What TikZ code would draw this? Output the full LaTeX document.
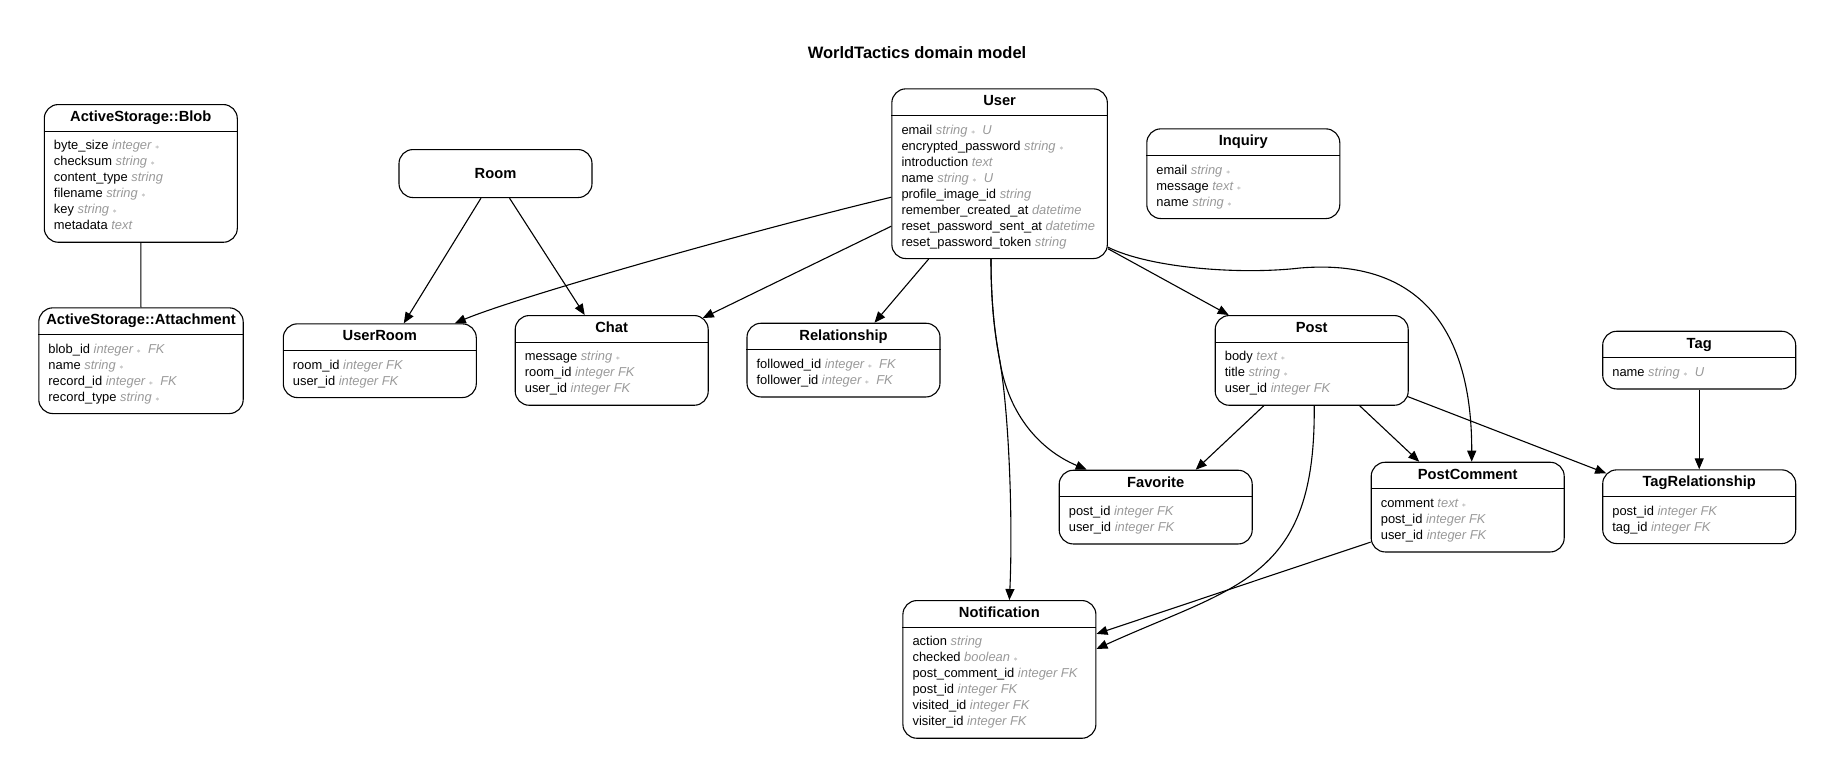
\documentclass[tikz,border=0pt]{standalone}
\usepackage{fontspec}
\setmainfont{Liberation Sans}
\usetikzlibrary{arrows.meta}
\definecolor{typegray}{HTML}{999999}
\newcommand\ty[1]{\textcolor{typegray}{\itshape #1}}
\newcommand\nn{\textcolor{typegray}{\footnotesize$\ast$}}
\begin{document}
\begin{tikzpicture}[x=1pt,y=-1pt,
   box/.style={draw, line width=1.1pt, rounded corners=14pt, minimum width=193pt, inner sep=0pt, anchor=north},
   head/.style={font=\fontsize{14.7}{17}\selectfont\bfseries, anchor=base, inner sep=0pt},
   attr/.style={font=\fontsize{12.9}{16}\selectfont, anchor=base west, inner sep=0pt},
   sepline/.style={line width=1pt},
   rel/.style={line width=1.1pt, -{Triangle[length=11pt,width=9pt]}}]
   \useasboundingbox (0,0) rectangle (1834,777);
   \node[font=\fontsize{16.5}{20}\selectfont\bfseries] (title) at (917,52.6) {WorldTactics domain model};

   \node[box, minimum height=137.7pt] (blob) at (140.8,104) {};
   \node[head] (blob-h) at ([yshift=-17.5]blob.north) {ActiveStorage::Blob};
   \draw[sepline] ([yshift=-27]blob.north west) -- ([yshift=-27]blob.north east);
   \node[attr] (blob-a) at ([xshift=10,yshift=-45.8]blob.north west) {\begin{tabular}[t]{@{}l@{}}
      byte\_size \ty{integer \nn}\\ checksum \ty{string \nn}\\ content\_type \ty{string}\\
      filename \ty{string \nn}\\ key \ty{string \nn}\\ metadata \ty{text}\end{tabular}};

   \node[box, minimum width=204.4pt, minimum height=105.7pt] (attach) at (141,307.3) {};
   \node[head] (attach-h) at ([yshift=-17.5]attach.north) {ActiveStorage::Attachment};
   \draw[sepline] ([yshift=-27]attach.north west) -- ([yshift=-27]attach.north east);
   \node[attr] (attach-a) at ([xshift=10,yshift=-45.8]attach.north west) {\begin{tabular}[t]{@{}l@{}}
      blob\_id \ty{integer \nn~ FK}\\ name \ty{string \nn}\\ record\_id \ty{integer \nn~ FK}\\
      record\_type \ty{string \nn}\end{tabular}};

   \node[box, minimum height=48pt] (room) at (495.5,149) {};
   \node[head] (room-h) at ([yshift=-29.3]room.north) {Room};

   \node[box, minimum height=73.7pt] (userroom) at (379.8,323.3) {};
   \node[head] (userroom-h) at ([yshift=-17.5]userroom.north) {UserRoom};
   \draw[sepline] ([yshift=-27]userroom.north west) -- ([yshift=-27]userroom.north east);
   \node[attr] (userroom-a) at ([xshift=10,yshift=-45.8]userroom.north west) {\begin{tabular}[t]{@{}l@{}}
      room\_id \ty{integer FK}\\ user\_id \ty{integer FK}\end{tabular}};

   \node[box, minimum height=89.7pt] (chat) at (611.7,315) {};
   \node[head] (chat-h) at ([yshift=-17.5]chat.north) {Chat};
   \draw[sepline] ([yshift=-27]chat.north west) -- ([yshift=-27]chat.north east);
   \node[attr] (chat-a) at ([xshift=10,yshift=-45.8]chat.north west) {\begin{tabular}[t]{@{}l@{}}
      message \ty{string \nn}\\ room\_id \ty{integer FK}\\ user\_id \ty{integer FK}\end{tabular}};

   \node[box, minimum height=73.7pt] (relationship) at (843.5,322.7) {};
   \node[head] (relationship-h) at ([yshift=-17.5]relationship.north) {Relationship};
   \draw[sepline] ([yshift=-27]relationship.north west) -- ([yshift=-27]relationship.north east);
   \node[attr] (relationship-a) at ([xshift=10,yshift=-45.8]relationship.north west) {\begin{tabular}[t]{@{}l@{}}
      followed\_id \ty{integer \nn~ FK}\\ follower\_id \ty{integer \nn~ FK}\end{tabular}};

   \node[box, minimum width=215.5pt, minimum height=169.7pt] (user) at (999.6,88.3) {};
   \node[head] (user-h) at ([yshift=-17.5]user.north) {User};
   \draw[sepline] ([yshift=-27]user.north west) -- ([yshift=-27]user.north east);
   \node[attr] (user-a) at ([xshift=10,yshift=-45.8]user.north west) {\begin{tabular}[t]{@{}l@{}}
      email \ty{string \nn~ U}\\ encrypted\_password \ty{string \nn}\\ introduction \ty{text}\\
      name \ty{string \nn~ U}\\ profile\_image\_id \ty{string}\\ remember\_created\_at \ty{datetime}\\
      reset\_password\_sent\_at \ty{datetime}\\ reset\_password\_token \ty{string}\end{tabular}};

   \node[box, minimum height=89.7pt] (inquiry) at (1243.3,128.3) {};
   \node[head] (inquiry-h) at ([yshift=-17.5]inquiry.north) {Inquiry};
   \draw[sepline] ([yshift=-27]inquiry.north west) -- ([yshift=-27]inquiry.north east);
   \node[attr] (inquiry-a) at ([xshift=10,yshift=-45.8]inquiry.north west) {\begin{tabular}[t]{@{}l@{}}
      email \ty{string \nn}\\ message \ty{text \nn}\\ name \ty{string \nn}\end{tabular}};

   \node[box, minimum height=89.7pt] (post) at (1311.7,315) {};
   \node[head] (post-h) at ([yshift=-17.5]post.north) {Post};
   \draw[sepline] ([yshift=-27]post.north west) -- ([yshift=-27]post.north east);
   \node[attr] (post-a) at ([xshift=10,yshift=-45.8]post.north west) {\begin{tabular}[t]{@{}l@{}}
      body \ty{text \nn}\\ title \ty{string \nn}\\ user\_id \ty{integer FK}\end{tabular}};

   \node[box, minimum height=57.7pt] (tag) at (1699.2,330.7) {};
   \node[head] (tag-h) at ([yshift=-17.5]tag.north) {Tag};
   \draw[sepline] ([yshift=-27]tag.north west) -- ([yshift=-27]tag.north east);
   \node[attr] (tag-a) at ([xshift=10,yshift=-45.8]tag.north west) {\begin{tabular}[t]{@{}l@{}}
      name \ty{string \nn~ U}\end{tabular}};

   \node[box, minimum height=73.7pt] (favorite) at (1155.7,469.7) {};
   \node[head] (favorite-h) at ([yshift=-17.5]favorite.north) {Favorite};
   \draw[sepline] ([yshift=-27]favorite.north west) -- ([yshift=-27]favorite.north east);
   \node[attr] (favorite-a) at ([xshift=10,yshift=-45.8]favorite.north west) {\begin{tabular}[t]{@{}l@{}}
      post\_id \ty{integer FK}\\ user\_id \ty{integer FK}\end{tabular}};

   \node[box, minimum height=89.7pt] (postcomment) at (1467.7,461.7) {};
   \node[head] (postcomment-h) at ([yshift=-17.5]postcomment.north) {PostComment};
   \draw[sepline] ([yshift=-27]postcomment.north west) -- ([yshift=-27]postcomment.north east);
   \node[attr] (postcomment-a) at ([xshift=10,yshift=-45.8]postcomment.north west) {\begin{tabular}[t]{@{}l@{}}
      comment \ty{text \nn}\\ post\_id \ty{integer FK}\\ user\_id \ty{integer FK}\end{tabular}};

   \node[box, minimum height=73.7pt] (tagrel) at (1699.2,469.3) {};
   \node[head] (tagrel-h) at ([yshift=-17.5]tagrel.north) {TagRelationship};
   \draw[sepline] ([yshift=-27]tagrel.north west) -- ([yshift=-27]tagrel.north east);
   \node[attr] (tagrel-a) at ([xshift=10,yshift=-45.8]tagrel.north west) {\begin{tabular}[t]{@{}l@{}}
      post\_id \ty{integer FK}\\ tag\_id \ty{integer FK}\end{tabular}};

   \node[box, minimum height=137.7pt] (notification) at (999.4,600) {};
   \node[head] (notification-h) at ([yshift=-17.5]notification.north) {Notification};
   \draw[sepline] ([yshift=-27]notification.north west) -- ([yshift=-27]notification.north east);
   \node[attr] (notification-a) at ([xshift=10,yshift=-45.8]notification.north west) {\begin{tabular}[t]{@{}l@{}}
      action \ty{string}\\ checked \ty{boolean \nn}\\ post\_comment\_id \ty{integer FK}\\
      post\_id \ty{integer FK}\\ visited\_id \ty{integer FK}\\ visiter\_id \ty{integer FK}\end{tabular}};

   \draw[sepline] (blob.south) -- (attach.north);
   \draw[rel] ([xshift=-14.5]room.south) -- ([xshift=24]userroom.north);
   \draw[rel] ([xshift=14]room.south) -- ([xshift=-27]chat.north);
   \draw[rel] ([yshift=-23.5]user.west) .. controls (742,233) and (515,298) .. ([xshift=75]userroom.north);
   \draw[rel] ([yshift=-52.5]user.west) -- ([xshift=-6,yshift=-3]chat.north east);
   \draw[rel] ([xshift=-71]user.south) -- ([xshift=31]relationship.north);
   \draw[rel] ([xshift=-8.6]user.south) .. controls (991,310) and (996,340) .. (1000,362)
      .. controls (1009,415) and (1013,520) .. ([xshift=10]notification.north);
   \draw[rel] ([xshift=-8.6]user.south) .. controls (991,310) and (996,340) .. (1000,362)
      .. controls (1009,415) and (1040,450) .. ([xshift=-69]favorite.north);
   \draw[rel] ([yshift=-75]user.east) -- ([xshift=-83]post.north);
   \draw[rel] ([yshift=-73.5]user.east) .. controls (1150,268) and (1240,275) .. (1300,268)
      .. controls (1420,258) and (1472,330) .. ([xshift=4]postcomment.north);
   \draw[rel] ([xshift=-48]post.south) -- ([xshift=40]favorite.north);
   \draw[rel] ([xshift=48]post.south) -- ([xshift=-48.5]postcomment.north);
   \draw[rel] ([xshift=-1.5,yshift=-36]post.east) -- ([xshift=4,yshift=-4]tagrel.north west);
   \draw[rel] ([xshift=2.5]post.south) .. controls (1316,580) and (1237,585) .. ([yshift=20.5]notification.east);
   \draw[rel] ([yshift=-35]postcomment.west) -- ([yshift=35.5]notification.east);
   \draw[rel] (tag.south) -- (tagrel.north);
\end{tikzpicture}
\end{document}
